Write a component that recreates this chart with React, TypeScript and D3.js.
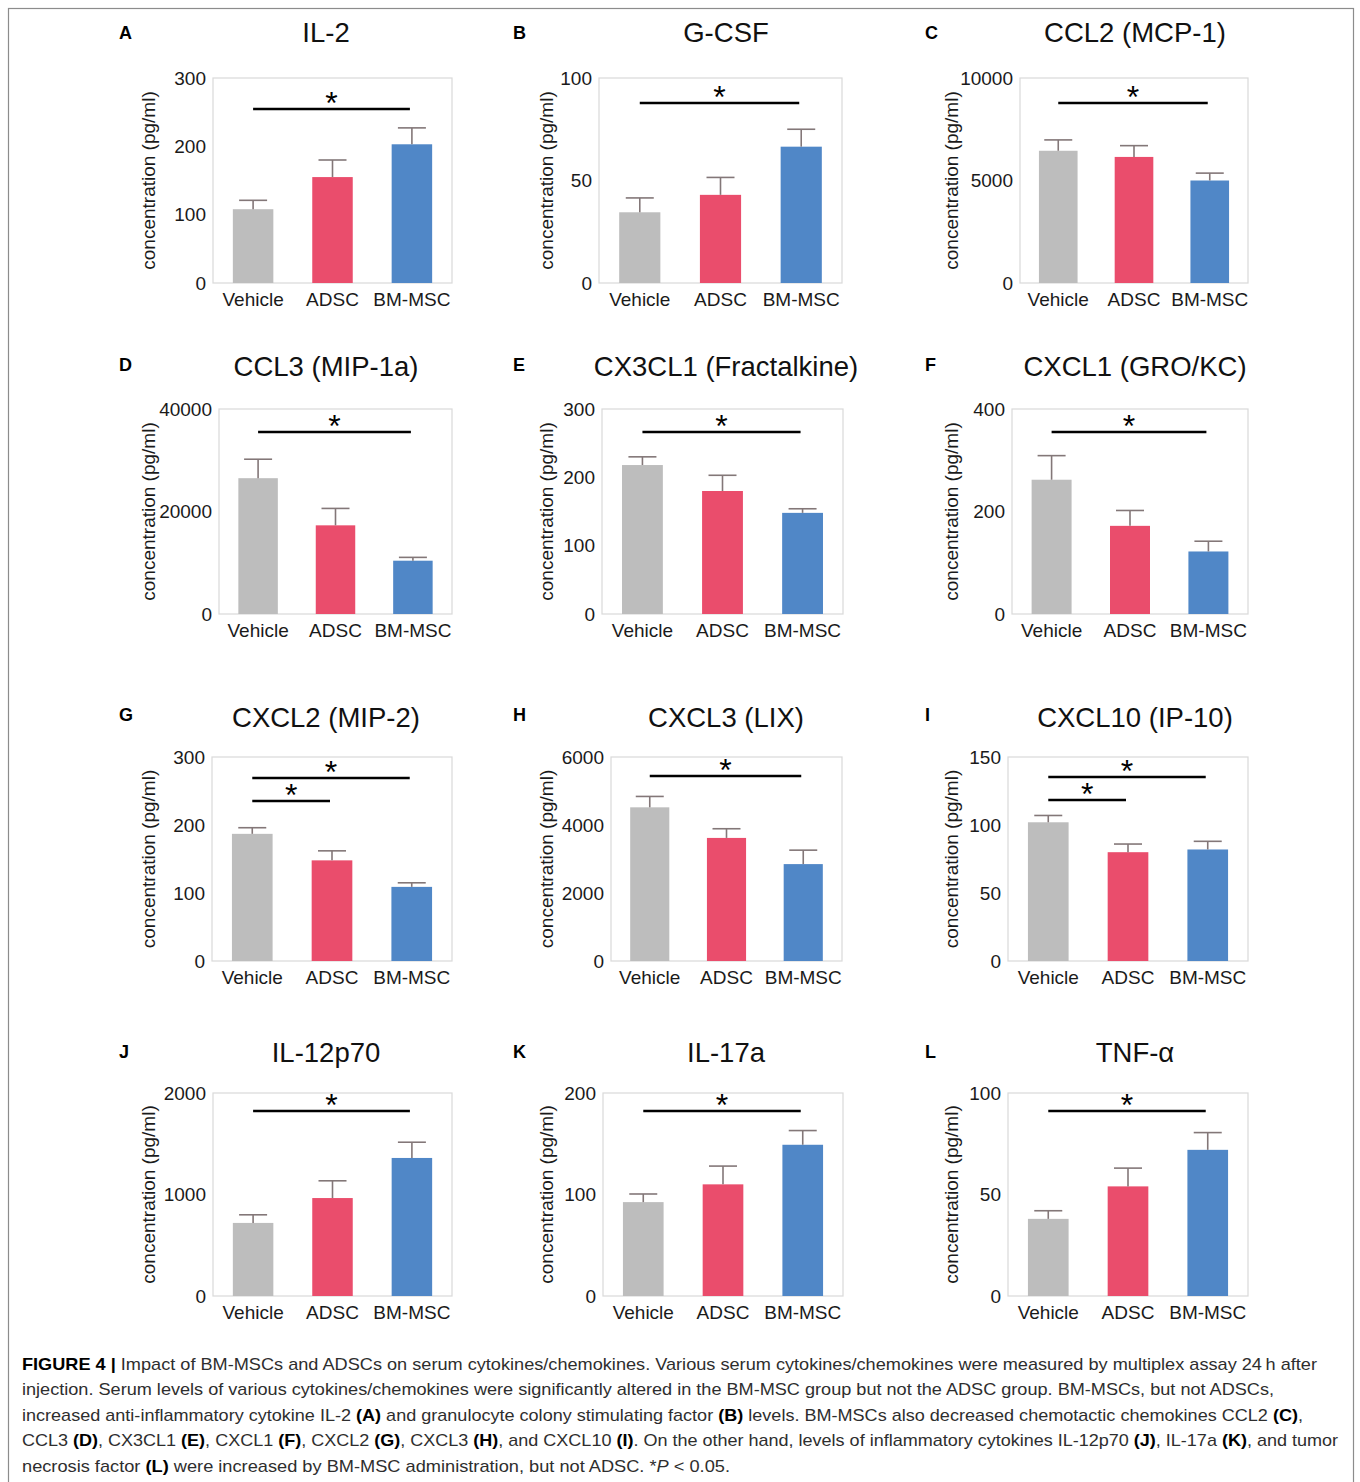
import { useEffect, useRef } from 'react';
import * as d3 from 'd3';

const groups = ['Vehicle', 'ADSC', 'BM-MSC'];
const groupColors = ['#bdbdbd', '#ea4d6c', '#5087c7'];

const panelLetters = ['A', 'B', 'C', 'D', 'E', 'F', 'G', 'H', 'I', 'J', 'K', 'L'];
const panelTitles = [
    'IL-2',
    'G-CSF',
    'CCL2 (MCP-1)',
    'CCL3 (MIP-1a)',
    'CX3CL1 (Fractalkine)',
    'CXCL1 (GRO/KC)',
    'CXCL2 (MIP-2)',
    'CXCL3 (LIX)',
    'CXCL10 (IP-10)',
    'IL-12p70',
    'IL-17a',
    'TNF-α',
];

const yTicks = [
    [0, 100, 200, 300],
    [0, 50, 100],
    [0, 5000, 10000],
    [0, 20000, 40000],
    [0, 100, 200, 300],
    [0, 200, 400],
    [0, 100, 200, 300],
    [0, 2000, 4000, 6000],
    [0, 50, 100, 150],
    [0, 1000, 2000],
    [0, 100, 200],
    [0, 50, 100],
];

// mean values (Vehicle, ADSC, BM-MSC)
const means = [
    [108, 155, 203],
    [34.5, 43, 66.5],
    [6450, 6150, 5000],
    [26500, 17300, 10400],
    [218, 180, 148],
    [262, 172, 122],
    [187, 148, 109],
    [4520, 3620, 2850],
    [102, 80, 82],
    [720, 965, 1360],
    [92.5, 110, 149],
    [38, 54, 72],
];

// error bar sizes
const errors = [
    [13, 25, 24],
    [7, 8.5, 8.5],
    [530, 550, 360],
    [3700, 3300, 650],
    [12, 23, 6],
    [47, 30, 20],
    [9, 14, 6],
    [320, 270, 410],
    [5, 6, 6],
    [80, 170, 155],
    [8, 18, 14],
    [4, 9, 8.5],
];

// significance brackets: [from group, to group]
const sigPairs = [
    [[0, 2]],
    [[0, 2]],
    [[0, 2]],
    [[0, 2]],
    [[0, 2]],
    [[0, 2]],
    [[0, 2], [0, 1]],
    [[0, 2]],
    [[0, 2], [0, 1]],
    [[0, 2]],
    [[0, 2]],
    [[0, 2]],
];

const captionLines = [
    [
        ['FIGURE 4 | ', 'b'],
        ['Impact of BM-MSCs and ADSCs on serum cytokines/chemokines. Various serum cytokines/chemokines were measured by multiplex assay 24\u2009h after', ''],
    ],
    [['injection. Serum levels of various cytokines/chemokines were significantly altered in the BM-MSC group but not the ADSC group. BM-MSCs, but not ADSCs,', '']],
    [
        ['increased anti-inflammatory cytokine IL-2 ', ''],
        ['(A)', 'b'],
        [' and granulocyte colony stimulating factor ', ''],
        ['(B)', 'b'],
        [' levels. BM-MSCs also decreased chemotactic chemokines CCL2 ', ''],
        ['(C)', 'b'],
        [',', ''],
    ],
    [
        ['CCL3 ', ''],
        ['(D)', 'b'],
        [', CX3CL1 ', ''],
        ['(E)', 'b'],
        [', CXCL1 ', ''],
        ['(F)', 'b'],
        [', CXCL2 ', ''],
        ['(G)', 'b'],
        [', CXCL3 ', ''],
        ['(H)', 'b'],
        [', and CXCL10 ', ''],
        ['(I)', 'b'],
        ['. On the other hand, levels of inflammatory cytokines IL-12p70 ', ''],
        ['(J)', 'b'],
        [', IL-17a ', ''],
        ['(K)', 'b'],
        [', and tumor', ''],
    ],
    [
        ['necrosis factor ', ''],
        ['(L)', 'b'],
        [' were increased by BM-MSC administration, but not ADSC. *', ''],
        ['P', 'i'],
        [' < 0.05.', ''],
    ],
];

const width = 1360;
const height = 1482;
const FONT = '"Liberation Sans", Arial, Helvetica, sans-serif';

// layout
const plotLeft = [213, 599, 1020, 219, 602, 1012, 212, 611, 1008, 213, 603, 1008];
const plotRight = [452, 842, 1248, 452, 843, 1248, 452, 842, 1248, 452, 843, 1248];
const rowTop = [78, 409, 757, 1093];
const rowBottom = [283, 614, 961, 1296];
const titleY = [42, 376, 727, 1062];
const letterY = [39, 371, 721, 1058];
const letterX = [119, 513, 925];
const titleX = [326, 726, 1135];
const yLabelX = [148, 546, 951];
const sigOffset = [31, 25, 25, 23, 23, 23, 21, 19, 20, 18, 18, 18];
const captionEnd = [1317, 1274, 1303, 1338, 730];

const App = () => {
    const svgRef = useRef<SVGSVGElement>(null);

    useEffect(() => {
        const svg = d3.select(svgRef.current);
        svg.selectAll('*').remove();

        svg.append('rect').attr('width', width).attr('height', height).attr('fill', '#fff');

        // outer frame (bottom edge runs off the page)
        svg.append('rect')
            .attr('x', 8.5)
            .attr('y', 8.5)
            .attr('width', 1345)
            .attr('height', 1490)
            .attr('fill', 'none')
            .attr('stroke', '#8c8c8c')
            .attr('stroke-width', 1.2);

        panelTitles.forEach((title, i) => {
            const row = Math.floor(i / 3);
            const col = i % 3;
            const left = plotLeft[i];
            const right = plotRight[i];
            const top = rowTop[row];
            const bottom = rowBottom[row];
            const ticks = yTicks[i];

            const x = d3.scaleBand().domain(groups).range([left, right]).paddingInner(0.49).paddingOuter(0.25);
            const y = d3
                .scaleLinear()
                .domain([0, ticks[ticks.length - 1]])
                .range([bottom, top]);

            const g = svg.append('g');

            g.append('rect')
                .attr('x', left)
                .attr('y', top)
                .attr('width', right - left)
                .attr('height', bottom - top)
                .attr('fill', 'none')
                .attr('stroke', '#d9d9d9')
                .attr('stroke-width', 1.2);

            g.selectAll('.bar')
                .data(groups)
                .enter()
                .append('rect')
                .attr('x', (d) => x(d))
                .attr('y', (d, j) => y(means[i][j]))
                .attr('width', x.bandwidth())
                .attr('height', (d, j) => bottom - y(means[i][j]))
                .attr('fill', (d, j) => groupColors[j]);

            // error bars
            groups.forEach((grp, j) => {
                const cx = x(grp) + x.bandwidth() / 2;
                const yTop = y(means[i][j] + errors[i][j]);
                g.append('line')
                    .attr('x1', cx)
                    .attr('x2', cx)
                    .attr('y1', y(means[i][j]))
                    .attr('y2', yTop)
                    .attr('stroke', '#837778')
                    .attr('stroke-width', 1.6);
                g.append('line')
                    .attr('x1', cx - 14)
                    .attr('x2', cx + 14)
                    .attr('y1', yTop)
                    .attr('y2', yTop)
                    .attr('stroke', '#837778')
                    .attr('stroke-width', 1.6);
            });

            // significance lines
            sigPairs[i].forEach(([a, b], level) => {
                const x1 = x(groups[a]) + x.bandwidth() / 2;
                const x2 = x(groups[b]) + x.bandwidth() / 2 - 2;
                const ly = top + sigOffset[i] + level * 23;
                g.append('line')
                    .attr('x1', x1)
                    .attr('x2', x2)
                    .attr('y1', ly)
                    .attr('y2', ly)
                    .attr('stroke', '#000')
                    .attr('stroke-width', 2.3);
                g.append('text')
                    .attr('x', (x1 + x2) / 2)
                    .attr('y', ly + 5)
                    .attr('text-anchor', 'middle')
                    .attr('font-family', FONT)
                    .attr('font-size', 32)
                    .attr('fill', '#000')
                    .text('*');
            });

            // y axis
            const yAxis = g
                .append('g')
                .attr('transform', `translate(${left - 7},0)`)
                .call(d3.axisLeft(y).tickValues(ticks).tickSize(0).tickPadding(0).tickFormat(d3.format('d')));
            yAxis.select('.domain').remove();
            yAxis.attr('font-size', 19).attr('font-family', FONT).attr('color', '#1a1a1a');

            // x axis
            const xAxis = g
                .append('g')
                .attr('transform', `translate(0,${bottom})`)
                .call(d3.axisBottom(x).tickSize(0).tickPadding(10));
            xAxis.select('.domain').remove();
            xAxis.attr('font-size', 19).attr('font-family', FONT).attr('color', '#1a1a1a');

            // y label
            g.append('text')
                .attr('transform', `translate(${yLabelX[col]},${(top + bottom) / 2}) rotate(-90)`)
                .attr('dy', '0.35em')
                .attr('text-anchor', 'middle')
                .attr('font-family', FONT)
                .attr('font-size', 19)
                .attr('fill', '#1a1a1a')
                .text('concentration (pg/ml)');

            // title
            g.append('text')
                .attr('x', titleX[col])
                .attr('y', titleY[row])
                .attr('text-anchor', 'middle')
                .attr('font-family', FONT)
                .attr('font-size', 27.5)
                .attr('fill', '#111')
                .text(title);

            // panel letter
            g.append('text')
                .attr('x', letterX[col])
                .attr('y', letterY[row])
                .attr('font-family', FONT)
                .attr('font-size', 18)
                .attr('font-weight', 'bold')
                .attr('fill', '#000')
                .text(panelLetters[i]);
        });

        // caption
        captionLines.forEach((segs, k) => {
            const t = svg
                .append('text')
                .attr('x', 22)
                .attr('y', 1370 + k * 25.4)
                .attr('font-family', '"Liberation Sans Narrow", "Liberation Sans", Arial, sans-serif')
                .attr('font-size', 17)
                .attr('fill', '#2e2e2e')
                .attr('textLength', captionEnd[k] - 22)
                .attr('lengthAdjust', 'spacingAndGlyphs');
            segs.forEach(([txt, style]) => {
                t.append('tspan')
                    .attr('font-weight', style === 'b' ? 'bold' : 'normal')
                    .attr('font-style', style === 'i' ? 'italic' : 'normal')
                    .attr('fill', style === 'b' ? '#000' : '#2e2e2e')
                    .text(txt);
            });
        });
    }, []);

    return (
        <div>
            <svg
                ref={svgRef}
                width={width}
                height={height}
                style={{ position: 'absolute', left: 0, top: 0, display: 'block' }}
            ></svg>
        </div>
    );
};

export default App;
